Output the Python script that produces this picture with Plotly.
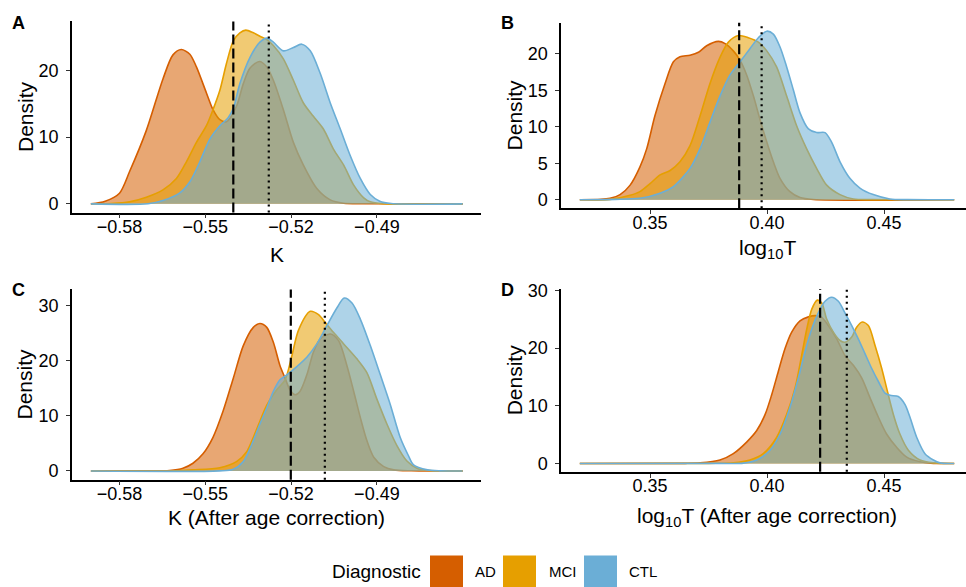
import plotly.graph_objects as go

W, H = 966, 587

GROUPS = ["AD", "MCI", "CTL"]
LINE_COLORS = {"AD": "#D55E00", "MCI": "#E69F00", "CTL": "#6BAED6"}
FILL_COLORS = {"AD": "rgba(213,94,0,0.55)", "MCI": "rgba(230,159,0,0.55)",
               "CTL": "rgba(107,174,214,0.55)"}

# ---------------- Panel A : K ----------------
A_AD_x = [-0.590, -0.585, -0.580, -0.5765, -0.5706, -0.5648, -0.5613, -0.5584, -0.5554, -0.5531,
          -0.5496, -0.5473, -0.5449, -0.5426, -0.5391, -0.5367, -0.5344, -0.5311, -0.5285, -0.5262,
          -0.5227, -0.5192, -0.5157, -0.5110, -0.5063, -0.5016, -0.495, -0.460]
A_AD_y = [0.0, 0.4, 1.6, 4.8, 11.0, 18.7, 22.3, 23.1, 22.4, 20.5,
          16.6, 14.1, 12.6, 12.3, 14.6, 18.0, 20.3, 21.3, 20.5, 18.5,
          14.1, 9.2, 5.8, 2.3, 0.6, 0.1, 0.02, 0.0]
A_MCI_x = [-0.590, -0.583, -0.5765, -0.5706, -0.5648, -0.5601, -0.5566, -0.5531, -0.5496, -0.5473,
           -0.5449, -0.5426, -0.5402, -0.5379, -0.5358, -0.5332, -0.5309, -0.5285, -0.5262, -0.5227,
           -0.5192, -0.5157, -0.5122, -0.5087, -0.5052, -0.5016, -0.4981, -0.4946, -0.4923, -0.488, -0.460]
A_MCI_y = [0.0, 0.05, 0.3, 1.0, 2.1, 3.8, 6.3, 9.2, 11.7, 14.1,
           17.0, 21.0, 24.4, 25.6, 26.0, 25.6, 25.1, 24.6, 23.7, 21.7,
           18.5, 15.1, 13.1, 11.2, 8.2, 5.8, 2.8, 0.9, 0.3, 0.03, 0.0]
A_CTL_x = [-0.590, -0.570, -0.5648, -0.5590, -0.5554, -0.5519, -0.5484, -0.5449, -0.5420, -0.5402,
           -0.5379, -0.5344, -0.5309, -0.5285, -0.5262, -0.5227, -0.5192, -0.5163, -0.5133, -0.5098,
           -0.5063, -0.5028, -0.4993, -0.4958, -0.4923, -0.489, -0.485, -0.460]
A_CTL_y = [0.0, 0.02, 0.5, 1.6, 3.3, 6.3, 9.7, 11.7, 12.9, 14.3,
           18.0, 21.9, 24.2, 24.8, 24.2, 22.9, 23.4, 23.9, 22.9, 19.5,
           15.1, 11.2, 7.2, 3.8, 1.4, 0.4, 0.05, 0.0]

# ---------------- Panel B : log10 T ----------------
B_AD_x = [0.320, 0.329, 0.3329, 0.3372, 0.3415, 0.3457, 0.3486, 0.3521, 0.3564, 0.3600,
          0.3628, 0.3671, 0.3707, 0.3742, 0.3792, 0.3821, 0.3856, 0.3885, 0.3913, 0.3942,
          0.3970, 0.3999, 0.4027, 0.4056, 0.4098, 0.4141, 0.4198, 0.480]
B_AD_y = [0.0, 0.05, 0.2, 0.7, 2.0, 4.5, 7.0, 11.5, 15.9, 18.9,
          19.6, 19.8, 20.2, 21.1, 21.7, 21.4, 20.4, 19.1, 17.1, 14.2,
          11.0, 7.9, 5.2, 2.9, 1.1, 0.3, 0.03, 0.0]
B_MCI_x = [0.320, 0.333, 0.3415, 0.3457, 0.3500, 0.3543, 0.3586, 0.3628, 0.3671, 0.3714,
           0.3756, 0.3799, 0.3835, 0.3878, 0.3920, 0.3963, 0.3999, 0.4041, 0.4084, 0.4127,
           0.4169, 0.4212, 0.4255, 0.4312, 0.4369, 0.445, 0.480]
B_MCI_y = [0.0, 0.05, 0.6, 1.1, 2.2, 3.4, 4.0, 5.2, 7.4, 11.5,
           15.9, 19.5, 21.6, 22.5, 22.2, 21.6, 20.4, 18.2, 14.2, 10.1,
           7.0, 4.3, 2.0, 0.7, 0.1, 0.01, 0.0]
B_CTL_x = [0.320, 0.335, 0.3457, 0.3543, 0.3600, 0.3671, 0.3714, 0.3756, 0.3799, 0.3842,
           0.3885, 0.3927, 0.3963, 0.3999, 0.4027, 0.4056, 0.4084, 0.4113, 0.4141, 0.4177,
           0.4212, 0.4248, 0.4276, 0.4312, 0.4355, 0.4397, 0.4454, 0.4525, 0.460, 0.480]
B_CTL_y = [0.0, 0.05, 0.2, 0.9, 1.8, 4.3, 7.0, 10.6, 14.2, 17.1,
           18.9, 20.7, 22.2, 23.1, 22.7, 20.9, 18.2, 15.0, 11.9, 9.7,
           9.2, 9.2, 7.9, 5.2, 2.9, 1.6, 0.7, 0.1, 0.01, 0.0]

# ---------------- Panel C : K (after age correction) ----------------
C_AD_x = [-0.590, -0.570, -0.5625, -0.5578, -0.5543, -0.5508, -0.5473, -0.5438, -0.5402, -0.5367,
          -0.5332, -0.5309, -0.5285, -0.5262, -0.5239, -0.5221, -0.5204, -0.5186, -0.5169, -0.5145,
          -0.5122, -0.5098, -0.5063, -0.5034, -0.5005, -0.4981, -0.4958, -0.4935, -0.4911, -0.4876,
          -0.4841, -0.478, -0.460]
C_AD_y = [0.0, 0.02, 0.1, 0.5, 1.4, 3.1, 6.1, 10.8, 16.8, 22.7,
          26.0, 26.7, 26.0, 23.3, 19.1, 16.8, 14.7, 13.8, 14.4, 17.4,
          21.5, 23.9, 24.8, 23.6, 19.1, 14.4, 9.7, 5.5, 2.5, 0.8,
          0.2, 0.03, 0.0]
C_MCI_x = [-0.590, -0.560, -0.5543, -0.5449, -0.5391, -0.5355, -0.5332, -0.5309, -0.5285, -0.5250,
           -0.5221, -0.5198, -0.5174, -0.5133, -0.5104, -0.5081, -0.5052, -0.5016, -0.4970, -0.4935,
           -0.4900, -0.4865, -0.4830, -0.4795, -0.476, -0.472, -0.460]
C_MCI_y = [0.0, 0.05, 0.2, 0.6, 1.7, 3.5, 6.1, 9.0, 11.9, 14.7,
           16.5, 20.7, 25.5, 28.9, 28.3, 26.9, 25.1, 23.0, 20.3, 17.8,
           13.0, 8.5, 4.6, 1.8, 0.5, 0.1, 0.0]
C_CTL_x = [-0.590, -0.545, -0.5402, -0.5367, -0.5332, -0.5309, -0.5285, -0.5262, -0.5239, -0.5215,
           -0.5180, -0.5145, -0.5110, -0.5075, -0.5040, -0.5014, -0.4987, -0.4958, -0.4923, -0.4888,
           -0.4853, -0.4818, -0.4790, -0.4772, -0.4723, -0.468, -0.460]
C_CTL_y = [0.0, 0.02, 0.3, 1.7, 5.5, 8.5, 11.4, 14.4, 16.5, 17.4,
           18.9, 20.6, 23.0, 26.3, 29.5, 31.3, 30.4, 27.5, 22.7, 17.4,
           12.0, 6.0, 2.8, 1.1, 0.2, 0.02, 0.0]

# ---------------- Panel D : log10 T (after age correction) ----------------
D_AD_x = [0.320, 0.365, 0.3714, 0.3799, 0.3856, 0.3913, 0.3956, 0.3992, 0.4020, 0.4048,
          0.4077, 0.4105, 0.4141, 0.4177, 0.4212, 0.4234, 0.4262, 0.4298, 0.4333, 0.4369,
          0.4405, 0.4440, 0.4476, 0.4511, 0.4554, 0.4597, 0.4654, 0.470, 0.480]
D_AD_y = [0.0, 0.02, 0.1, 0.6, 1.7, 3.7, 5.7, 8.5, 11.9, 15.9,
          19.9, 22.7, 24.7, 25.4, 25.6, 25.3, 23.9, 21.6, 18.7, 17.0,
          14.8, 11.4, 8.0, 5.1, 2.8, 1.1, 0.3, 0.05, 0.0]
D_MCI_x = [0.320, 0.375, 0.3856, 0.3927, 0.3984, 0.4041, 0.4084, 0.4120, 0.4148, 0.4170,
           0.4191, 0.4215, 0.4234, 0.4255, 0.4284, 0.4312, 0.4333, 0.4362, 0.4383, 0.4407,
           0.4433, 0.4462, 0.4490, 0.4511, 0.4540, 0.4568, 0.4604, 0.4654, 0.4711, 0.480]
D_MCI_y = [0.0, 0.02, 0.1, 0.6, 1.7, 4.5, 8.5, 13.1, 18.7, 23.3,
           26.7, 28.3, 27.8, 25.0, 22.7, 21.3, 21.0, 21.9, 23.6, 24.5,
           23.9, 20.4, 16.5, 13.1, 8.5, 5.1, 2.3, 0.6, 0.1, 0.0]
D_CTL_x = [0.320, 0.380, 0.3899, 0.3956, 0.4013, 0.4056, 0.4098, 0.4134, 0.4162, 0.4191,
           0.4219, 0.4248, 0.4276, 0.4305, 0.4333, 0.4362, 0.4390, 0.4419, 0.4447, 0.4476,
           0.4504, 0.4526, 0.4561, 0.4590, 0.4611, 0.4640, 0.4675, 0.4711, 0.4739, 0.480]
D_CTL_y = [0.0, 0.01, 0.05, 0.6, 2.3, 5.1, 9.7, 14.8, 19.3, 23.3,
           26.1, 28.1, 28.8, 28.1, 26.1, 23.9, 21.6, 19.0, 16.5, 14.2,
           12.2, 11.8, 11.6, 10.2, 8.0, 4.5, 1.7, 0.6, 0.1, 0.0]

# reference lines (dashed / dotted) per panel
VLINE_DASHED = {"A": -0.5402, "B": 0.3881, "C": -0.5201, "D": 0.4227}
VLINE_DOTTED = {"A": -0.5278, "B": 0.3977, "C": -0.5082, "D": 0.4341}

# tick labels
K_TICKS = [-0.58, -0.55, -0.52, -0.49]
K_TICKTEXT = ["\u22120.58", "\u22120.55", "\u22120.52", "\u22120.49"]
T_TICKS = [0.35, 0.40, 0.45]
T_TICKTEXT = ["0.35", "0.40", "0.45"]
Y_TICKS = {"A": [0, 10, 20], "B": [0, 5, 10, 15, 20], "C": [0, 10, 20, 30], "D": [0, 10, 20, 30]}

X_TITLES = {"A": "K", "B": "log<sub>10</sub>T", "C": "K (After age correction)",
            "D": "log<sub>10</sub>T (After age correction)"}
LEGEND_TITLE = "Diagnostic"

DATA = {
    "A": {"AD": (A_AD_x, A_AD_y), "MCI": (A_MCI_x, A_MCI_y), "CTL": (A_CTL_x, A_CTL_y)},
    "B": {"AD": (B_AD_x, B_AD_y), "MCI": (B_MCI_x, B_MCI_y), "CTL": (B_CTL_x, B_CTL_y)},
    "C": {"AD": (C_AD_x, C_AD_y), "MCI": (C_MCI_x, C_MCI_y), "CTL": (C_CTL_x, C_CTL_y)},
    "D": {"AD": (D_AD_x, D_AD_y), "MCI": (D_MCI_x, D_MCI_y), "CTL": (D_CTL_x, D_CTL_y)},
}

FONT = "Liberation Sans, Arial, Helvetica, sans-serif"


def px(x):
    return x / W


def py(y):
    return 1 - y / H


# layout geometry (pixels)
PANELS = {
    "A": dict(ax="", x0=72, x1=481, yt=13.7, yb=208.1, yr=[-1.3, 27.3], xr=[-0.5966, -0.4536]),
    "B": dict(ax="2", x0=561.1, x1=966, yt=15.0, yb=203.6, yr=[-1.155, 24.255], xr=[0.312, 0.48504]),
    "C": dict(ax="3", x0=72, x1=481, yt=286.3, yb=479.8, yr=[-1.565, 32.865], xr=[-0.5966, -0.4536]),
    "D": dict(ax="4", x0=561.1, x1=966, yt=285.8, yb=471.8, yr=[-1.44, 30.24], xr=[0.312, 0.48504]),
}
TITLE_CX = {"A": 276.5, "B": 767, "C": 276.5, "D": 767}
TITLE_Y = {"A": 251, "B": 245, "C": 518, "D": 518}
YTITLE_X = {"A": 25, "B": 514, "C": 25, "D": 514}
TAG_POS = {"A": (18, 15), "B": (508, 15), "C": (18, 287), "D": (508, 287)}

fig = go.Figure()

for key, p in PANELS.items():
    xa = "x" + p["ax"]
    ya = "y" + p["ax"]
    for g in GROUPS:
        xs, ys = DATA[key][g]
        fig.add_trace(go.Scatter(
            x=xs, y=ys, xaxis=xa, yaxis=ya, mode="lines",
            line=dict(color=LINE_COLORS[g], width=1.6, shape="spline", smoothing=0.8),
            fill="tozeroy", fillcolor=FILL_COLORS[g], showlegend=False, hoverinfo="skip"))
    # vertical reference lines
    fig.add_shape(type="line", xref=xa, yref=ya + " domain", x0=VLINE_DASHED[key], x1=VLINE_DASHED[key],
                  y0=0, y1=1, line=dict(color="black", width=2.2, dash="10px,4px"))
    fig.add_shape(type="line", xref=xa, yref=ya + " domain", x0=VLINE_DOTTED[key], x1=VLINE_DOTTED[key],
                  y0=0, y1=1, line=dict(color="black", width=2.2, dash="2px,4px"))

    is_k = key in ("A", "C")
    axis_common = dict(showline=True, linecolor="black", linewidth=1.6, ticks="outside", ticklen=4,
                       tickwidth=1.3, tickcolor="#333333", showgrid=False, zeroline=False,
                       tickfont=dict(family=FONT, size=18, color="black"))
    fig.layout["xaxis" + p["ax"]] = dict(
        domain=[px(p["x0"]), px(p["x1"])], range=p["xr"], anchor=ya,
        tickvals=K_TICKS if is_k else T_TICKS, ticktext=K_TICKTEXT if is_k else T_TICKTEXT,
        ticklabelstandoff=-7, **axis_common)
    fig.layout["yaxis" + p["ax"]] = dict(
        domain=[py(p["yb"]), py(p["yt"])], range=p["yr"], anchor=xa,
        tickvals=Y_TICKS[key], ticktext=[str(v) for v in Y_TICKS[key]],
        ticklabelstandoff=4, **axis_common)

    # axis titles
    fig.add_annotation(x=px(TITLE_CX[key]), y=py(TITLE_Y[key]), xref="paper", yref="paper",
                       text=X_TITLES[key], showarrow=False, xanchor="center", yanchor="middle",
                       font=dict(family=FONT, size=21, color="black"))
    fig.add_annotation(x=px(YTITLE_X[key]), y=py((p["yt"] + p["yb"]) / 2), xref="paper", yref="paper",
                       text="Density", textangle=-90, showarrow=False, xanchor="center",
                       yanchor="middle", font=dict(family=FONT, size=21, color="black"))
    # panel tag
    tx, ty = TAG_POS[key]
    fig.add_annotation(x=px(tx), y=py(ty), xref="paper", yref="paper", text="<b>%s</b>" % key,
                       showarrow=False, xanchor="center", yanchor="middle",
                       font=dict(family=FONT, size=18, color="black"))

# legend (drawn manually to match ggplot's large keys)
fig.add_annotation(x=px(330), y=py(573), xref="paper", yref="paper", text=LEGEND_TITLE,
                   showarrow=False, xanchor="left", yanchor="middle",
                   font=dict(family=FONT, size=19, color="black"))
LEG_KEYS = {"AD": (430, 473), "MCI": (503, 547), "CTL": (584, 627)}
for g in GROUPS:
    kx, lx = LEG_KEYS[g]
    fig.add_shape(type="rect", xref="paper", yref="paper", x0=px(kx), x1=px(kx + 33),
                  y0=py(591), y1=py(557), line=dict(width=0), fillcolor=LINE_COLORS[g])
    fig.add_annotation(x=px(lx), y=py(573), xref="paper", yref="paper", text=g, showarrow=False,
                       xanchor="left", yanchor="middle", font=dict(family=FONT, size=15, color="black"))

fig.update_layout(width=W, height=H, margin=dict(l=0, r=0, t=0, b=0),
                  paper_bgcolor="white", plot_bgcolor="white", showlegend=False,
                  font=dict(family=FONT))

fig.write_html("out.html", config={"displayModeBar": False},
               post_script="document.body.style.margin='0px';"
                           "document.body.style.overflow='hidden';")
